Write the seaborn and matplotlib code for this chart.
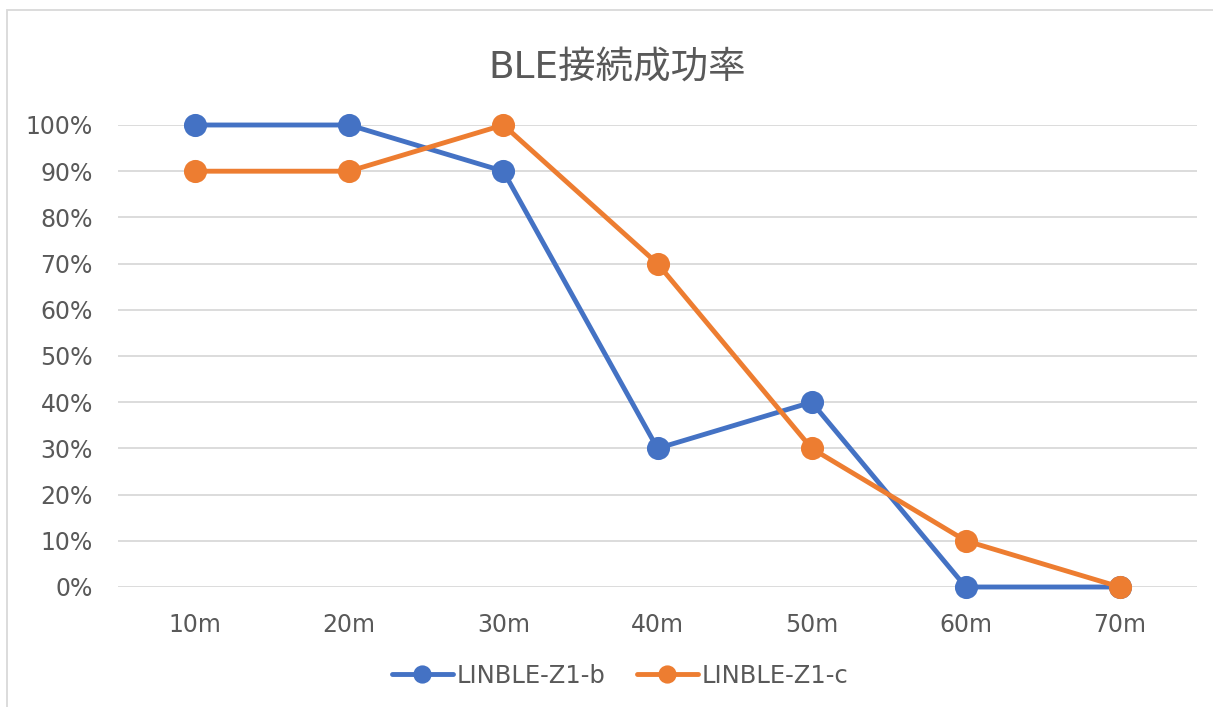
import pandas as pd
import matplotlib.pyplot as plt
import matplotlib.patches as mpatches
from matplotlib.ticker import PercentFormatter, MultipleLocator
import seaborn as sns

# Chart data
distances = ['10m', '20m', '30m', '40m', '50m', '60m', '70m']
series_names = ['LINBLE-Z1-b', 'LINBLE-Z1-c']
rate_b = [1.0, 1.0, 0.9, 0.3, 0.4, 0.0, 0.0]
rate_c = [0.9, 0.9, 1.0, 0.7, 0.3, 0.1, 0.0]
colors = {'LINBLE-Z1-b': '#4472C4', 'LINBLE-Z1-c': '#ED7D31'}

df = pd.DataFrame({
    'distance': distances * 2,
    'rate': rate_b + rate_c,
    'series': [series_names[0]] * len(distances) + [series_names[1]] * len(distances),
})

sns.set_theme(style="white")
plt.rcParams['font.family'] = ['DejaVu Sans', 'Noto Sans CJK JP']
text_color = '#595959'

fig = plt.figure(figsize=(12.13, 7.07), dpi=100)
ax = fig.add_axes([118 / 1213, 1 - 587 / 707, (1197 - 118) / 1213, (587 - 125) / 707])

sns.pointplot(
    data=df, x='distance', y='rate', hue='series', order=distances,
    hue_order=series_names, palette=colors, markers='o', errorbar=None,
    linewidth=3.5, markersize=14, ax=ax,
)
for ln in ax.lines:
    ln.set_clip_on(False)
    ln.set_solid_capstyle('round')

ax.set_ylim(0, 1)
ax.set_xlim(-0.5, len(distances) - 0.5)
ax.yaxis.set_major_locator(MultipleLocator(0.1))
ax.yaxis.set_major_formatter(PercentFormatter(1.0, decimals=0))
ax.grid(axis='y', color='#D9D9D9', linewidth=1.3)
ax.grid(axis='x', visible=False)
ax.set_axisbelow(True)
for s in ax.spines.values():
    s.set_visible(False)
ax.tick_params(axis='both', length=0, labelsize=17, labelcolor=text_color)
ax.tick_params(axis='x', pad=19)
ax.tick_params(axis='y', pad=18)
ax.set_xlabel('')
ax.set_ylabel('')

handles, labels = ax.get_legend_handles_labels()
ax.get_legend().remove()
fig.legend(handles, labels, loc='center', bbox_to_anchor=(620 / 1213, 1 - 676 / 707),
           ncol=2, frameon=False, fontsize=17.5, labelcolor=text_color,
           handlelength=2.5, columnspacing=1.3, handletextpad=0.15, markerscale=0.75)

fig.text(617 / 1213, 1 - 68 / 707, 'BLE接続成功率', ha='center', va='center',
         fontsize=27, color=text_color)

# outer chart border
fig.patches.append(mpatches.Rectangle((7 / 1213, -0.05), 1.1, 1 - 10 / 707 + 0.05,
                                      transform=fig.transFigure, fill=False,
                                      edgecolor='#D9D9D9', linewidth=1.3))

fig.savefig('out.png', dpi=100)
